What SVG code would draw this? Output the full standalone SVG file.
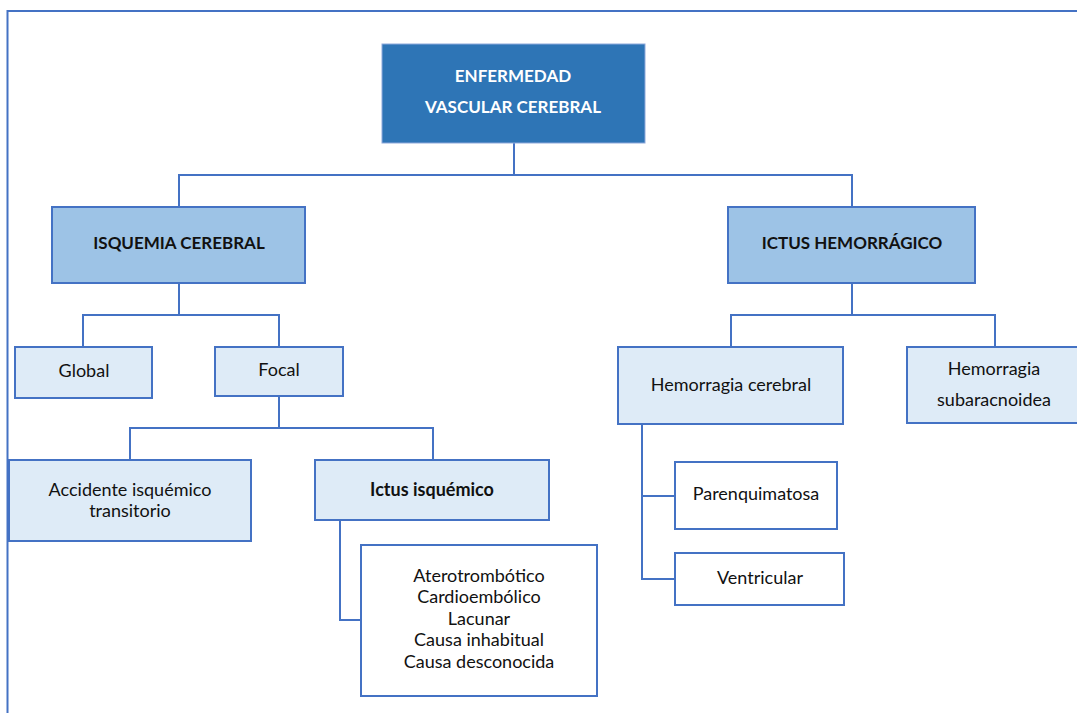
<svg xmlns="http://www.w3.org/2000/svg" width="1077" height="713" viewBox="0 0 1077 713">
<style>
text{font-family:"Lato","Liberation Sans",sans-serif;font-size:18px;fill:#111;text-anchor:middle;dominant-baseline:central}
.b{font-weight:bold}
.cap{font-size:17px}
.w{fill:#fff}
.n{stroke:#4472C4;stroke-width:2}
.top{fill:#2E75B6}
.l2{fill:#9DC3E6}
.l3{fill:#DEEBF7}
.wh{fill:#fff}
.c{fill:none;stroke:#4472C4;stroke-width:2}
</style>
<rect width="1077" height="713" fill="#fff"/>
<path d="M7.5,713 V11 H1080" fill="none" stroke="#4472C4" stroke-width="2"/>
<g id="connectors" class="c">
<path d="M514,143 V175 M179,207 V175 H852 V207"/>
<path d="M179,283 V315 M83,347 V315 H279 V347"/>
<path d="M279,396 V428 M130,460 V428 H433 V460"/>
<path d="M340,520 V620 H361"/>
<path d="M852,283 V315 M731,347 V315 H995 V347"/>
<path d="M642,424 V579 H675 M642,496 H675"/>
</g>
<g id="n-root"><rect class="top" x="382" y="44" width="263" height="99" stroke="#8EA9DB" stroke-width="1"/><text class="b w cap" x="513" y="75">ENFERMEDAD</text><text class="b w cap" x="513" y="106">VASCULAR CEREBRAL</text></g>
<g id="n-isq"><rect class="n l2" x="52" y="207" width="253" height="76"/><text class="b cap" x="179" y="242">ISQUEMIA CEREBRAL</text></g>
<g id="n-hem"><rect class="n l2" x="728" y="207" width="247" height="76"/><text class="b cap" x="852" y="242">ICTUS HEMORRÁGICO</text></g>
<g id="n-global"><rect class="n l3" x="15" y="347" width="137" height="51"/><text x="84" y="370">Global</text></g>
<g id="n-focal"><rect class="n l3" x="215" y="347" width="128" height="49"/><text x="279" y="369">Focal</text></g>
<g id="n-ait"><rect class="n l3" x="9" y="460" width="242" height="81"/><text x="130" y="489">Accidente isquémico</text><text x="130" y="510">transitorio</text></g>
<g id="n-ictusisq"><rect class="n l3" x="315" y="460" width="234" height="60"/><text class="b" x="432" y="489">Ictus isquémico</text></g>
<g id="n-causas"><rect class="n wh" x="361" y="545" width="236" height="151"/><text x="479" y="575">Aterotrombótico</text><text x="479" y="596">Cardioembólico</text><text x="479" y="618">Lacunar</text><text x="479" y="639">Causa inhabitual</text><text x="479" y="661">Causa desconocida</text></g>
<g id="n-hcer"><rect class="n l3" x="618" y="347" width="225" height="77"/><text x="731" y="384">Hemorragia cerebral</text></g>
<g id="n-hsub"><rect class="n l3" x="907" y="347" width="174" height="76"/><text x="994" y="368">Hemorragia</text><text x="994" y="399">subaracnoidea</text></g>
<g id="n-paren"><rect class="n wh" x="675" y="462" width="162" height="67"/><text x="756" y="493">Parenquimatosa</text></g>
<g id="n-vent"><rect class="n wh" x="675" y="553" width="169" height="52"/><text x="760" y="577">Ventricular</text></g>
</svg>
